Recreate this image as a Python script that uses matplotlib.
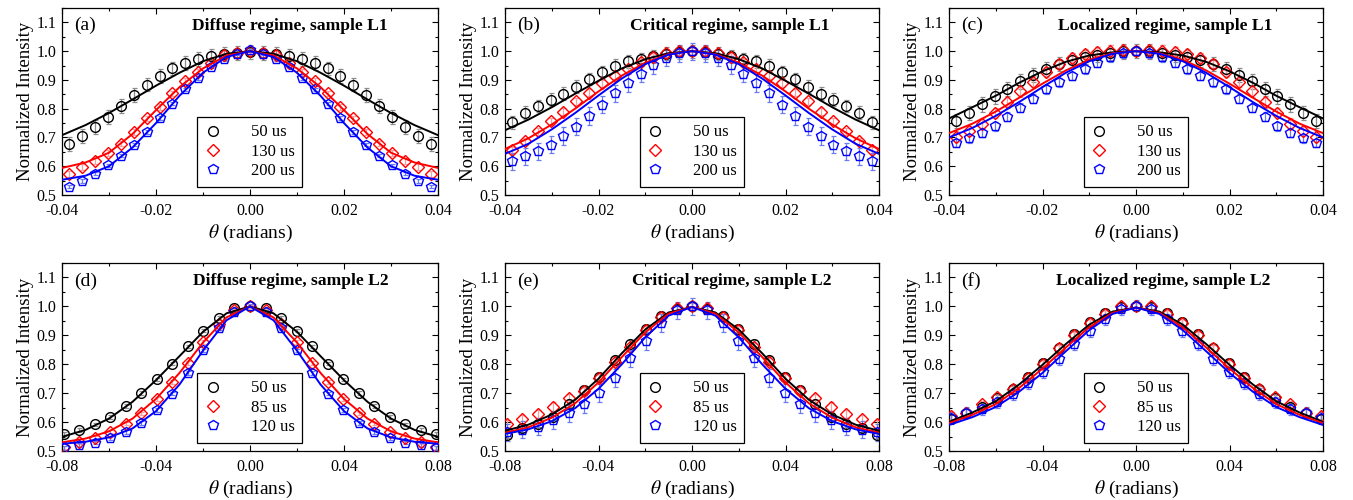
import numpy as np
import matplotlib
matplotlib.use("Agg")
from matplotlib import pyplot as plt
from matplotlib.lines import Line2D
from matplotlib.ticker import MultipleLocator, FormatStrFormatter

plt.rcParams["font.family"] = ["Liberation Serif", "DejaVu Serif"]
plt.rcParams["mathtext.fontset"] = "stix"
plt.rcParams["axes.unicode_minus"] = False

# angles of the measured points and of the fitted curves
theta_l1 = np.linspace(-0.0385, 0.0385, 29)
theta_l2 = np.linspace(-0.0792, 0.0792, 25)
fit_x_l1 = np.linspace(-0.04, 0.04, 17)
fit_x_l2 = np.linspace(-0.08, 0.08, 17)

# ---- sample L1, measured points ----
a_black = [0.678, 0.706, 0.737, 0.771, 0.809, 0.848, 0.884, 0.914, 0.940, 0.960, 0.972, 0.982, 0.990, 0.994, 0.998,
           0.994, 0.990, 0.982, 0.972, 0.960, 0.940, 0.914, 0.884, 0.848, 0.809, 0.771, 0.737, 0.706, 0.678]
a_red = [0.574, 0.597, 0.618, 0.646, 0.679, 0.719, 0.766, 0.807, 0.853, 0.895, 0.928, 0.960, 0.985, 0.995, 0.999,
         0.995, 0.985, 0.960, 0.928, 0.895, 0.853, 0.807, 0.766, 0.719, 0.679, 0.646, 0.618, 0.597, 0.574]
a_blue = [0.529, 0.549, 0.574, 0.603, 0.637, 0.675, 0.719, 0.768, 0.818, 0.867, 0.907, 0.946, 0.974, 0.991, 1.003,
          0.991, 0.974, 0.946, 0.907, 0.867, 0.818, 0.768, 0.719, 0.675, 0.637, 0.603, 0.574, 0.549, 0.529]

b_black = [0.753, 0.786, 0.809, 0.831, 0.852, 0.877, 0.903, 0.928, 0.950, 0.965, 0.973, 0.982, 0.991, 0.996, 0.999,
           0.996, 0.991, 0.982, 0.973, 0.965, 0.950, 0.928, 0.903, 0.877, 0.852, 0.831, 0.809, 0.786, 0.753]
b_red = [0.655, 0.686, 0.722, 0.757, 0.790, 0.826, 0.856, 0.888, 0.914, 0.938, 0.962, 0.980, 0.993, 1.000, 1.000,
         1.000, 0.993, 0.980, 0.962, 0.938, 0.914, 0.888, 0.856, 0.826, 0.790, 0.757, 0.722, 0.686, 0.655]
b_blue = [0.617, 0.634, 0.652, 0.675, 0.705, 0.738, 0.775, 0.814, 0.854, 0.889, 0.922, 0.952, 0.977, 0.992, 1.000,
          0.992, 0.977, 0.952, 0.922, 0.889, 0.854, 0.814, 0.775, 0.738, 0.705, 0.675, 0.652, 0.634, 0.617]

c_black = [0.758, 0.786, 0.815, 0.843, 0.869, 0.895, 0.918, 0.938, 0.956, 0.970, 0.980, 0.988, 0.995, 0.999, 1.000,
           0.999, 0.995, 0.988, 0.980, 0.970, 0.956, 0.938, 0.918, 0.895, 0.869, 0.843, 0.815, 0.786, 0.758]
c_red = [0.703, 0.723, 0.748, 0.786, 0.822, 0.860, 0.894, 0.928, 0.955, 0.976, 0.990, 0.998, 1.002, 1.003, 1.000,
         1.003, 1.002, 0.998, 0.990, 0.976, 0.955, 0.928, 0.894, 0.860, 0.822, 0.786, 0.748, 0.723, 0.703]
c_blue = [0.681, 0.697, 0.717, 0.739, 0.772, 0.804, 0.835, 0.867, 0.892, 0.913, 0.937, 0.960, 0.978, 0.992, 1.000,
          0.992, 0.978, 0.960, 0.937, 0.913, 0.892, 0.867, 0.835, 0.804, 0.772, 0.739, 0.717, 0.697, 0.681]

# ---- sample L2, measured points ----
d_black = [0.558, 0.572, 0.592, 0.618, 0.655, 0.700, 0.748, 0.802, 0.862, 0.916, 0.960, 0.993, 1.000,
           0.993, 0.960, 0.916, 0.862, 0.802, 0.748, 0.700, 0.655, 0.618, 0.592, 0.572, 0.558]
d_red = [0.513, 0.530, 0.545, 0.567, 0.595, 0.630, 0.679, 0.738, 0.805, 0.877, 0.940, 0.986, 1.000,
         0.986, 0.940, 0.877, 0.805, 0.738, 0.679, 0.630, 0.595, 0.567, 0.545, 0.530, 0.513]
d_blue = [0.510, 0.521, 0.529, 0.544, 0.566, 0.597, 0.641, 0.698, 0.770, 0.848, 0.926, 0.979, 1.003,
          0.979, 0.926, 0.848, 0.770, 0.698, 0.641, 0.597, 0.566, 0.544, 0.529, 0.521, 0.510]

e_black = [0.557, 0.578, 0.595, 0.618, 0.664, 0.710, 0.756, 0.816, 0.871, 0.923, 0.967, 0.992, 1.000,
           0.992, 0.967, 0.923, 0.871, 0.816, 0.756, 0.710, 0.664, 0.618, 0.595, 0.578, 0.557]
e_red = [0.593, 0.610, 0.628, 0.653, 0.682, 0.707, 0.751, 0.808, 0.860, 0.917, 0.963, 0.995, 1.000,
         0.995, 0.963, 0.917, 0.860, 0.808, 0.751, 0.707, 0.682, 0.653, 0.628, 0.610, 0.593]
e_blue = [0.565, 0.574, 0.584, 0.607, 0.630, 0.663, 0.700, 0.752, 0.820, 0.880, 0.943, 0.986, 1.000,
          0.986, 0.943, 0.880, 0.820, 0.752, 0.700, 0.663, 0.630, 0.607, 0.584, 0.574, 0.565]

f_black = [0.612, 0.632, 0.653, 0.682, 0.713, 0.756, 0.805, 0.856, 0.903, 0.946, 0.977, 0.998, 1.000,
           0.998, 0.977, 0.946, 0.903, 0.856, 0.805, 0.756, 0.713, 0.682, 0.653, 0.632, 0.612]
f_red = [0.622, 0.633, 0.662, 0.687, 0.716, 0.753, 0.802, 0.856, 0.900, 0.943, 0.975, 1.001, 1.000,
         1.001, 0.975, 0.943, 0.900, 0.856, 0.802, 0.753, 0.716, 0.687, 0.662, 0.633, 0.622]
f_blue = [0.615, 0.633, 0.644, 0.668, 0.697, 0.734, 0.772, 0.818, 0.869, 0.915, 0.955, 0.990, 1.003,
          0.990, 0.955, 0.915, 0.869, 0.818, 0.772, 0.734, 0.697, 0.668, 0.644, 0.633, 0.615]

# ---- fitted curves ----
a_fit_black = [0.708, 0.743, 0.785, 0.832, 0.880, 0.925, 0.965, 0.991, 1.0, 0.991, 0.965, 0.925, 0.880, 0.832, 0.785, 0.743, 0.708]
a_fit_red = [0.594, 0.613, 0.647, 0.712, 0.795, 0.875, 0.940, 0.985, 1.0, 0.985, 0.940, 0.875, 0.795, 0.712, 0.647, 0.613, 0.594]
a_fit_blue = [0.553, 0.567, 0.600, 0.665, 0.750, 0.845, 0.925, 0.980, 1.0, 0.980, 0.925, 0.845, 0.750, 0.665, 0.600, 0.567, 0.553]
b_fit_black = [0.725, 0.762, 0.805, 0.852, 0.897, 0.940, 0.972, 0.993, 1.0, 0.993, 0.972, 0.940, 0.897, 0.852, 0.805, 0.762, 0.725]
b_fit_red = [0.660, 0.697, 0.745, 0.800, 0.860, 0.915, 0.960, 0.990, 1.0, 0.990, 0.960, 0.915, 0.860, 0.800, 0.745, 0.697, 0.660]
b_fit_blue = [0.643, 0.678, 0.728, 0.785, 0.846, 0.905, 0.955, 0.988, 1.0, 0.988, 0.955, 0.905, 0.846, 0.785, 0.728, 0.678, 0.643]
c_fit_black = [0.766, 0.805, 0.845, 0.890, 0.930, 0.963, 0.985, 0.996, 1.0, 0.996, 0.985, 0.963, 0.930, 0.890, 0.845, 0.805, 0.766]
c_fit_red = [0.715, 0.748, 0.790, 0.838, 0.887, 0.933, 0.970, 0.993, 1.0, 0.993, 0.970, 0.933, 0.887, 0.838, 0.790, 0.748, 0.715]
c_fit_blue = [0.700, 0.733, 0.775, 0.823, 0.875, 0.925, 0.965, 0.991, 1.0, 0.991, 0.965, 0.925, 0.875, 0.823, 0.775, 0.733, 0.700]
d_fit_black = [0.549, 0.573, 0.612, 0.670, 0.745, 0.828, 0.912, 0.976, 1.0, 0.976, 0.912, 0.828, 0.745, 0.670, 0.612, 0.573, 0.549]
d_fit_red = [0.530, 0.543, 0.568, 0.612, 0.680, 0.770, 0.875, 0.962, 1.0, 0.962, 0.875, 0.770, 0.680, 0.612, 0.568, 0.543, 0.530]
d_fit_blue = [0.525, 0.532, 0.547, 0.578, 0.638, 0.730, 0.847, 0.952, 1.0, 0.952, 0.847, 0.730, 0.638, 0.578, 0.547, 0.532, 0.525]
e_fit_black = [0.570, 0.591, 0.626, 0.677, 0.750, 0.838, 0.920, 0.979, 0.998, 0.979, 0.920, 0.838, 0.750, 0.677, 0.626, 0.591, 0.570]
e_fit_red = [0.563, 0.582, 0.615, 0.665, 0.737, 0.825, 0.910, 0.975, 0.998, 0.975, 0.910, 0.825, 0.737, 0.665, 0.615, 0.582, 0.563]
e_fit_blue = [0.559, 0.575, 0.603, 0.648, 0.715, 0.800, 0.893, 0.968, 0.998, 0.968, 0.893, 0.800, 0.715, 0.648, 0.603, 0.575, 0.559]
f_fit_black = [0.601, 0.633, 0.672, 0.730, 0.798, 0.870, 0.937, 0.982, 0.996, 0.982, 0.937, 0.870, 0.798, 0.730, 0.672, 0.633, 0.601]
f_fit_red = [0.596, 0.625, 0.662, 0.718, 0.785, 0.858, 0.928, 0.978, 0.996, 0.978, 0.928, 0.858, 0.785, 0.718, 0.662, 0.625, 0.596]
f_fit_blue = [0.590, 0.617, 0.652, 0.705, 0.770, 0.845, 0.918, 0.974, 0.996, 0.974, 0.918, 0.845, 0.770, 0.705, 0.652, 0.617, 0.590]

# error bar half-heights (black, red, blue) for each panel
a_err = [0.024, 0.010, 0.006]
b_err = [0.022, 0.012, 0.030]
c_err = [0.025, 0.018, 0.015]
d_err = [0.006, 0.006, 0.006]
e_err = [0.012, 0.015, 0.030]
f_err = [0.012, 0.012, 0.020]

labels_l1 = ["50 us", "130 us", "200 us"]
labels_l2 = ["50 us", "85 us", "120 us"]

panels = [
    ("(a)", "Diffuse regime, sample L1", 0.606, theta_l1, fit_x_l1, [a_black, a_red, a_blue], [a_fit_black, a_fit_red, a_fit_blue], a_err, labels_l1),
    ("(b)", "Critical regime, sample L1", 0.602, theta_l1, fit_x_l1, [b_black, b_red, b_blue], [b_fit_black, b_fit_red, b_fit_blue], b_err, labels_l1),
    ("(c)", "Localized regime, sample L1", 0.578, theta_l1, fit_x_l1, [c_black, c_red, c_blue], [c_fit_black, c_fit_red, c_fit_blue], c_err, labels_l1),
    ("(d)", "Diffuse regime, sample L2", 0.609, theta_l2, fit_x_l2, [d_black, d_red, d_blue], [d_fit_black, d_fit_red, d_fit_blue], d_err, labels_l2),
    ("(e)", "Critical regime, sample L2", 0.607, theta_l2, fit_x_l2, [e_black, e_red, e_blue], [e_fit_black, e_fit_red, e_fit_blue], e_err, labels_l2),
    ("(f)", "Localized regime, sample L2", 0.572, theta_l2, fit_x_l2, [f_black, f_red, f_blue], [f_fit_black, f_fit_red, f_fit_blue], f_err, labels_l2),
]

colors = ["black", "#ff0000", "#0000ff"]
err_colors = ["#8c8c8c", "#f4a0a0", "#6a7cf0"]
markers = ["o", "D", "p"]
msizes = [7, 6, 7.5]

W, H = 1353.0, 500.0
col_left = [62, 505, 949]
col_width = [376, 374, 374]
row_top = [8, 263]
row_height = [187, 188]

fig = plt.figure(figsize=(13.53, 5.0), dpi=100)

for i, (tag, title, title_x, theta, fit_x, pts, fits, errs, labels) in enumerate(panels):
    r, c = divmod(i, 3)
    ax = fig.add_axes([col_left[c] / W, 1 - (row_top[r] + row_height[r]) / H,
                       col_width[c] / W, row_height[r] / H])
    for ys, fy, e, col, ecol, mk, ms in zip(pts, fits, errs, colors, err_colors, markers, msizes):
        ax.errorbar(theta, ys, yerr=e, fmt="none", ecolor=ecol, elinewidth=0.9, capsize=1.8, capthick=0.9, zorder=2)
        ax.plot(theta, ys, linestyle="none", marker=mk, ms=ms, mfc="none", mec=col, mew=1.0, zorder=3)
        ax.plot(fit_x, fy, color=col, lw=1.4, zorder=4)

    if r == 0:
        ax.set_xlim(-0.04, 0.04)
        ax.xaxis.set_major_locator(MultipleLocator(0.02))
        ax.xaxis.set_minor_locator(MultipleLocator(0.01))
    else:
        ax.set_xlim(-0.08, 0.08)
        ax.xaxis.set_major_locator(MultipleLocator(0.04))
        ax.xaxis.set_minor_locator(MultipleLocator(0.02))
    ax.set_ylim(0.5, 1.15)
    ax.yaxis.set_major_locator(MultipleLocator(0.1))
    ax.yaxis.set_minor_locator(MultipleLocator(0.05))
    ax.xaxis.set_major_formatter(FormatStrFormatter("%.2f"))
    ax.yaxis.set_major_formatter(FormatStrFormatter("%.1f"))
    ax.tick_params(which="both", direction="in", top=True, right=True, width=0.8, labelsize=11.5)
    ax.tick_params(axis="x", pad=5.5)
    ax.tick_params(axis="y", pad=4)
    ax.tick_params(which="major", length=4)
    ax.tick_params(which="minor", length=2.5)
    for sp in ax.spines.values():
        sp.set_linewidth(0.9)

    ax.set_ylabel("Normalized Intensity", fontsize=13.5, labelpad=2)
    ax.set_xlabel(r"$\theta$ (radians)", fontsize=14, labelpad=3)
    ax.text(0.032, 0.905, tag, transform=ax.transAxes, fontsize=14, ha="left", va="center")
    ax.text(title_x, 0.905, title, transform=ax.transAxes, fontsize=12.6, fontweight="bold", ha="center", va="center")

    handles = [Line2D([], [], linestyle="none", marker=mk, ms=ms, mfc="none", mec=col, mew=1.0)
               for col, mk, ms in zip(colors, markers, msizes)]
    leg = ax.legend(handles, labels, loc="lower left", bbox_to_anchor=(0.36, 0.045), borderaxespad=0,
                    frameon=True, fancybox=False, edgecolor="black", framealpha=1, fontsize=12,
                    handlelength=1.0, handletextpad=1.75, borderpad=0.45, labelspacing=0.2)
    leg.get_frame().set_linewidth(0.9)

fig.savefig("out.png", dpi=100)
